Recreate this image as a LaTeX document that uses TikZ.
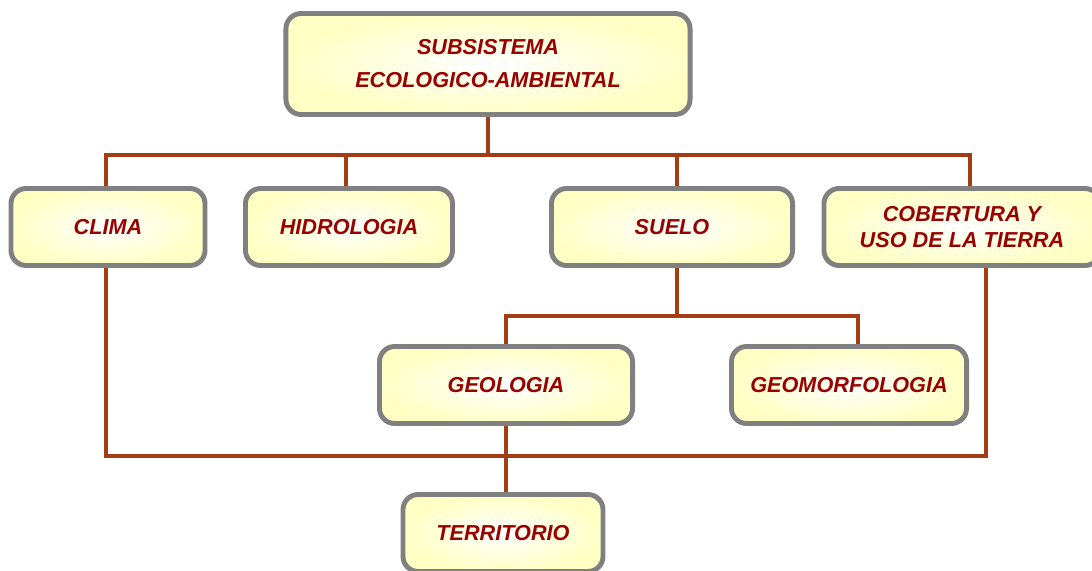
\documentclass[tikz,border=0pt]{standalone}
\usepackage{fontspec}
\setmainfont{Liberation Sans}
\usepackage{xcolor}
\usepackage{tikz}
\usetikzlibrary{positioning, calc, backgrounds}

\definecolor{textorojo}{RGB}{153,0,0}
\definecolor{lineacafe}{RGB}{164,60,20}
\definecolor{bordegris}{RGB}{128,128,128}
\definecolor{amarillo}{RGB}{255,255,196}

\begin{document}
\begin{tikzpicture}[
        x=0.025cm, y=-0.025cm,
        caja/.style={
            draw=bordegris,
            line width=3.5pt,
            rounded corners=0.38cm,
            inner color=white,
            outer color=amarillo,
            minimum height=1.925cm,
            align=center,
            text=textorojo,
            font=\fontsize{15.4}{18.4}\selectfont\bfseries\itshape
        },
        linea/.style={
            draw=lineacafe,
            line width=2.6pt
        }
    ]
    \useasboundingbox (0,0) rectangle (1092,571);

    % nivel superior
    \node[caja, minimum width=10.1cm, minimum height=2.525cm] (sub) at (488,64)
        {SUBSISTEMA\\[5pt]ECOLOGICO-AMBIENTAL};

    % componentes
    \node[caja, minimum width=4.85cm] (clima) at (108,227) {CLIMA};
    \node[caja, minimum width=5.175cm] (hidro) at (349,227) {HIDROLOGIA};
    \node[caja, minimum width=6.025cm] (suelo) at (672,227) {SUELO};
    \node[caja, minimum width=6.9cm] (cob) at (962,227) {COBERTURA Y\\USO DE LA TIERRA};

    % suelo
    \node[caja, minimum width=6.325cm] (geo) at (506,385) {GEOLOGIA};
    \node[caja, minimum width=5.875cm] (geomorf) at (849,385) {GEOMORFOLOGIA};

    \node[caja, minimum width=5cm] (terr) at (503,533) {TERRITORIO};

    \coordinate (bus) at (506,456);

    \begin{scope}[on background layer]
        \draw[linea] (sub.south) -- ++(0,38) -| ([xshift=-0.05cm]clima.north);
        \draw[linea] (sub.south) -- ++(0,38) -| ([xshift=-0.075cm]hidro.north);
        \draw[linea] (sub.south) -- ++(0,38) -| ([xshift=0.125cm]suelo.north);
        \draw[linea] (sub.south) -- ++(0,38) -| ([xshift=0.2cm]cob.north);

        \draw[linea] (suelo.south) ++(0.125cm,0) -- ++(0,48) -| (geo.north);
        \draw[linea] (suelo.south) ++(0.125cm,0) -- ++(0,48) -| ([xshift=0.225cm]geomorf.north);

        \draw[linea] ([xshift=-0.05cm]clima.south) |- (bus) -| ([xshift=0.6cm]cob.south);
        \draw[linea] (geo.south) -- (geo.south |- terr.north);
    \end{scope}

\end{tikzpicture}
\end{document}
